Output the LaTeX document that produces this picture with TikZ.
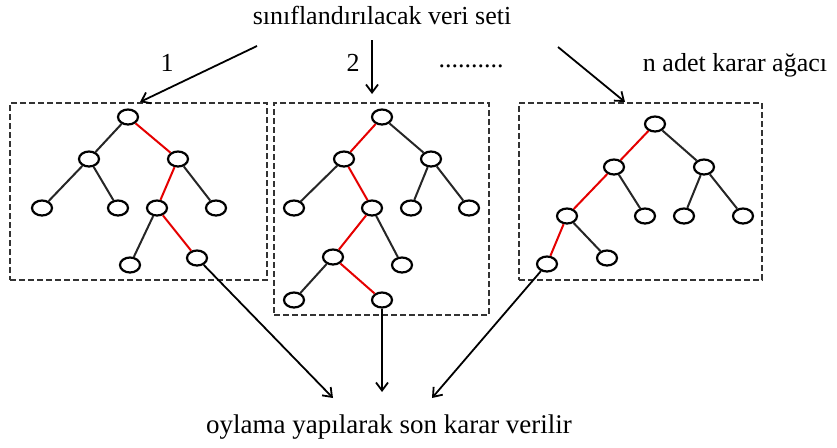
\documentclass[tikz,border=0pt]{standalone}
\usepackage{fontspec}
\setmainfont{Liberation Serif}
\usetikzlibrary{arrows.meta,shapes.geometric}
\begin{document}
\begin{tikzpicture}[x=1pt, y=-1pt,
    dugum/.style={draw, ellipse, line width=2.2pt, minimum width=20pt, minimum height=15pt, inner sep=0pt},
    dal/.style={line width=2pt, black!85},
    secim/.style={line width=2pt, red!90!black},
    kutu/.style={draw, dash pattern=on 6pt off 3pt, line width=2pt, black!80, inner sep=0pt},
    ok/.style={line width=1.8pt, -{Straight Barb[length=8pt,width=12pt]}},
    yazi/.style={font=\fontsize{26}{30}\selectfont}]
    \useasboundingbox (0,0) rectangle (837,447);
    % texts
    \node[yazi] (baslik) at (382,15) {sınıflandırılacak veri seti};
    \node[yazi] (bir) at (167,63) {1};
    \node[yazi] (iki) at (353,63) {2};
    \node[yazi] (nokta) at (471,66) {..........};
    \node[yazi] (nadet) at (735,65) {n adet karar ağacı};
    \node[yazi, font=\fontsize{27}{30}\selectfont] (sonuc) at (389,427) {oylama yapılarak son karar verilir};
    % boxes
    \node[kutu, minimum width=257pt, minimum height=177pt] (kutu1) at (138.5,191.5) {};
    \node[kutu, minimum width=215pt, minimum height=212pt] (kutu2) at (381.5,209) {};
    \node[kutu, minimum width=243pt, minimum height=177pt] (kutu3) at (640.5,191.5) {};
    % tree 1
    \node[dugum] (a) at (128,117) {};
    \node[dugum] (aL) at (89,159) {};
    \node[dugum] (aR) at (178,159) {};
    \node[dugum] (aLL) at (42,208) {};
    \node[dugum] (aLR) at (118,208) {};
    \node[dugum] (aRL) at (157,208) {};
    \node[dugum] (aRR) at (216,208) {};
    \node[dugum] (aRLL) at (130,265) {};
    \node[dugum] (aRLR) at (197,258) {};
    \draw[dal] (a)--(aL) (aL)--(aLL) (aL)--(aLR) (aR)--(aRR) (aRL)--(aRLL);
    \draw[secim] (a)--(aR) (aR)--(aRL) (aRL)--(aRLR);
    % tree 2
    \node[dugum] (b) at (382,117) {};
    \node[dugum] (bL) at (344,159) {};
    \node[dugum] (bR) at (431,159) {};
    \node[dugum] (bLL) at (294,208) {};
    \node[dugum] (bLR) at (372,208) {};
    \node[dugum] (bRL) at (411,208) {};
    \node[dugum] (bRR) at (469,208) {};
    \node[dugum] (bLRL) at (333,257) {};
    \node[dugum] (bLRR) at (402,265) {};
    \node[dugum] (bLRLL) at (294,300) {};
    \node[dugum] (bLRLR) at (382,300) {};
    \draw[dal] (b)--(bR) (bL)--(bLL) (bR)--(bRL) (bR)--(bRR) (bLR)--(bLRR) (bLRL)--(bLRLL);
    \draw[secim] (b)--(bL) (bL)--(bLR) (bLR)--(bLRL) (bLRL)--(bLRLR);
    % tree 3
    \node[dugum] (c) at (655,124) {};
    \node[dugum] (cL) at (614,167) {};
    \node[dugum] (cR) at (704,167) {};
    \node[dugum] (cLL) at (567,216) {};
    \node[dugum] (cLR) at (645,216) {};
    \node[dugum] (cRL) at (684,216) {};
    \node[dugum] (cRR) at (743,216) {};
    \node[dugum] (cLLL) at (547,264) {};
    \node[dugum] (cLLR) at (607,258) {};
    \draw[dal] (c)--(cR) (cL)--(cLR) (cR)--(cRL) (cR)--(cRR) (cLL)--(cLLR);
    \draw[secim] (c)--(cL) (cL)--(cLL) (cLL)--(cLLL);
    % arrows
    \coordinate (g1) at (257,46);
    \coordinate (g2) at (372,40);
    \coordinate (g3) at (558,47);
    \coordinate (h1) at (140,102);
    \coordinate (h2) at (372,94);
    \coordinate (h3) at (625,102);
    \coordinate (s1) at (333,398);
    \coordinate (s2) at (382,392);
    \coordinate (s3) at (432,398);
    \draw[ok] (g1)--(h1);
    \draw[ok] (g2)--(h2);
    \draw[ok] (g3)--(h3);
    \draw[ok] (aRLR)--(s1);
    \draw[ok] (bLRLR)--(s2);
    \draw[ok] (cLLL)--(s3);
\end{tikzpicture}
\end{document}
